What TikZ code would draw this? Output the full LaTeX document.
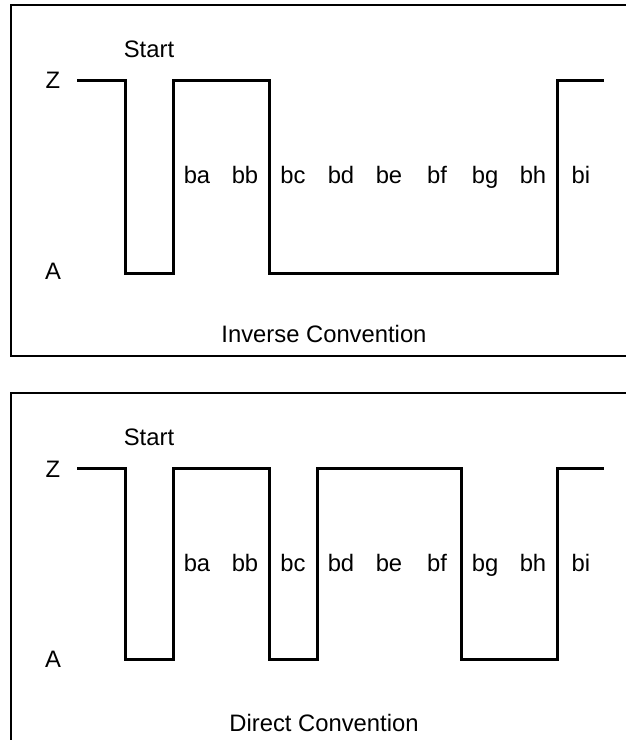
\documentclass[tikz,border=0pt]{standalone}
\usepackage{fontspec}
\setmainfont{Liberation Sans}
\usetikzlibrary{positioning}
\tikzset{lbl/.style={font=\fontsize{11.9}{14}\selectfont,inner sep=0pt,anchor=base},
 wave/.style={line width=1.5pt,line join=miter},
 frame/.style={draw,line width=.9pt}}
\begin{document}
\begin{tikzpicture}[x=.5pt,y=-.5pt]
\useasboundingbox (0,0) rectangle (626,740);
\clip (0,0) rectangle (626,740);
% inverse convention
\draw[frame] (11,5) rectangle (650,356);
\node[lbl] (zi) at (53,88) {Z};\node[lbl] (ai) at (53,279) {A};
\node[lbl] (si) at (149,57) {Start};
\draw[wave] (77,80) -| (125,273) -| (173,80) -| (269,273) -| (557,80) -- (604,80);
\foreach \b [count=\i] in {ba,bb,bc,bd,be,bf,bg,bh,bi} \node[lbl] (i\b) at (149+48*\i,183) {\b};
\node[lbl] (ti) at (324,342) {Inverse Convention};
% direct convention
\draw[frame] (11,393) rectangle (650,760);
\node[lbl] (zd) at (53,477) {Z};\node[lbl] (ad) at (53,667) {A};
\node[lbl] (sd) at (149,445) {Start};
\draw[wave] (77,468) -| (125,659) -| (173,468) -| (269,659) -| (317,468) -| (461,659) -| (557,468) -- (604,468);
\foreach \b [count=\i] in {ba,bb,bc,bd,be,bf,bg,bh,bi} \node[lbl] (d\b) at (149+48*\i,571) {\b};
\node[lbl] (td) at (324,731) {Direct Convention};
\end{tikzpicture}
\end{document}
